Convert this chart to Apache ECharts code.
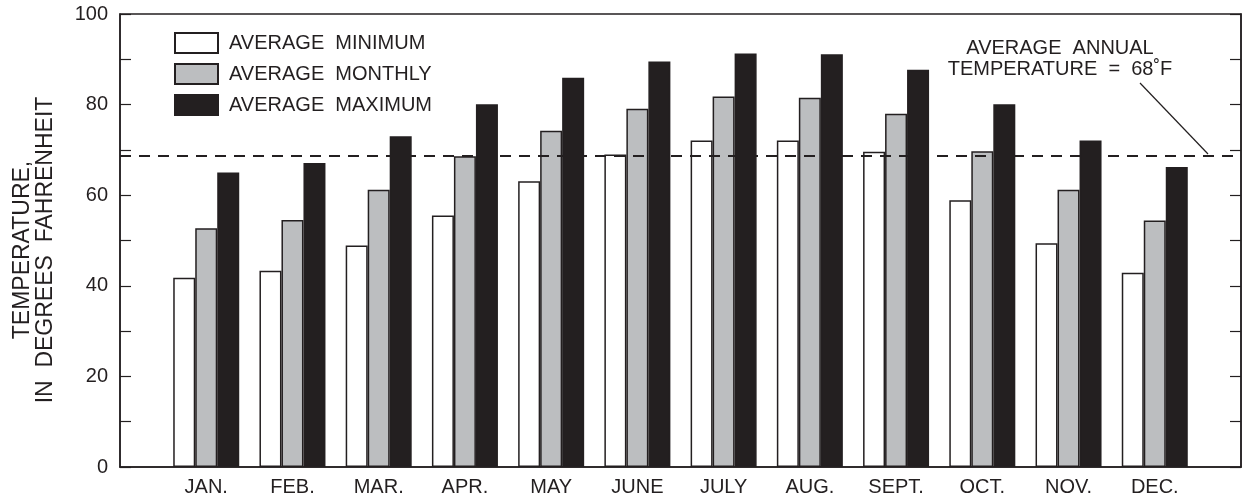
<!DOCTYPE html>
<html>
<head>
<meta charset="utf-8">
<script src="https://cdn.jsdelivr.net/npm/echarts@6/dist/echarts.min.js"></script>
<style>
html,body{margin:0;padding:0;background:#fff;}
#chart{width:1244px;height:502px;}
</style>
</head>
<body>
<div id="chart"></div>
<script>
const months = ['JAN.', 'FEB.', 'MAR.', 'APR.', 'MAY', 'JUNE', 'JULY', 'AUG.', 'SEPT.', 'OCT.', 'NOV.', 'DEC.'];
const avgMinimum = [41.8, 43.3, 48.9, 55.5, 63.1, 69.0, 72.1, 72.1, 69.6, 58.9, 49.4, 42.9];
const avgMonthly = [52.7, 54.5, 61.2, 68.6, 74.2, 79.1, 81.8, 81.5, 78.0, 69.7, 61.2, 54.4];
const avgMaximum = [65.0, 67.1, 73.0, 80.1, 85.9, 89.5, 91.3, 91.1, 87.7, 80.1, 72.1, 66.2];
const annualLine = 68.6;
const yTicks = [0, 20, 40, 60, 80, 100];

const INK = '#231f20';
const FONT = 'Liberation Sans, Arial, sans-serif';

// pad half a category on each side
const cats = [''].concat(months, ['']);
const pad = arr => [null].concat(arr, [null]);

const chart = echarts.init(document.getElementById('chart'), null, {renderer: 'canvas'});

const barBase = {
  type: 'bar',
  barWidth: 22,
  barGap: '0%',
  silent: true,
  animation: false
};

const option = {
  backgroundColor: '#fff',
  animation: false,
  textStyle: {fontFamily: FONT},
  grid: {
    left: 120, right: 2, top: 14, bottom: 35,
    show: true, borderColor: INK, borderWidth: 1.5, backgroundColor: 'transparent'
  },
  legend: {
    orient: 'vertical',
    left: 174, top: 32,
    padding: 0,
    itemWidth: 43, itemHeight: 20, itemGap: 9,
    selectedMode: false,
    textStyle: {fontSize: 20, color: INK, fontFamily: FONT, padding: [0, 0, 0, 6]},
    data: [
      {name: 'AVERAGE  MINIMUM', icon: 'rect'},
      {name: 'AVERAGE  MONTHLY', icon: 'rect'},
      {name: 'AVERAGE  MAXIMUM', icon: 'rect'}
    ]
  },
  xAxis: {
    type: 'category',
    data: cats,
    boundaryGap: false,
    axisLine: {show: true, lineStyle: {color: INK, width: 1.5}},
    axisTick: {show: false},
    splitLine: {show: false},
    axisLabel: {interval: 0, fontSize: 20, color: INK, fontFamily: FONT, margin: 10}
  },
  yAxis: [
    {
      type: 'value', min: 0, max: 100, interval: 10, position: 'left',
      axisLine: {show: true, lineStyle: {color: INK, width: 1.5}},
      axisTick: {show: true, inside: true, length: 11, lineStyle: {color: INK, width: 1.2}},
      splitLine: {show: false},
      axisLabel: {
        fontSize: 20, color: INK, fontFamily: FONT, margin: 12,
        formatter: v => (yTicks.indexOf(v) >= 0 ? String(v) : '')
      }
    },
    {
      type: 'value', min: 0, max: 100, interval: 10, position: 'right',
      axisLine: {show: true, lineStyle: {color: INK, width: 1.5}},
      axisTick: {show: true, inside: true, length: 11, lineStyle: {color: INK, width: 1.2}},
      splitLine: {show: false},
      axisLabel: {show: false}
    }
  ],
  series: [
    Object.assign({}, barBase, {
      name: 'AVERAGE  MINIMUM',
      data: pad(avgMinimum),
      itemStyle: {color: '#ffffff', borderColor: INK, borderWidth: 1.5},
      markLine: {
        silent: true,
        symbol: 'none',
        label: {show: false},
        lineStyle: {color: INK, width: 2, type: [11, 8]},
        data: [{yAxis: annualLine}]
      }
    }),
    Object.assign({}, barBase, {
      name: 'AVERAGE  MONTHLY',
      data: pad(avgMonthly),
      itemStyle: {color: '#bcbec0', borderColor: INK, borderWidth: 1.5}
    }),
    Object.assign({}, barBase, {
      name: 'AVERAGE  MAXIMUM',
      data: pad(avgMaximum),
      itemStyle: {color: INK, borderColor: INK, borderWidth: 1.5}
    })
  ],
  graphic: [
    {
      type: 'text',
      x: 34, y: 250,
      rotation: Math.PI / 2,
      style: {
        text: 'TEMPERATURE,\nIN  DEGREES  FAHRENHEIT',
        fontSize: 23, fontFamily: FONT, fill: INK,
        align: 'center', verticalAlign: 'middle', lineHeight: 23
      }
    },
    {
      type: 'text',
      x: 1060, y: 59,
      style: {
        text: 'AVERAGE  ANNUAL\nTEMPERATURE  =  68˚F',
        fontSize: 20, fontFamily: FONT, fill: INK,
        align: 'center', verticalAlign: 'middle', lineHeight: 21
      }
    },
    {
      type: 'line',
      shape: {x1: 1140, y1: 83, x2: 1208, y2: 154},
      style: {stroke: INK, lineWidth: 1.2}
    }
  ]
};

chart.setOption(option);
</script>
</body>
</html>
